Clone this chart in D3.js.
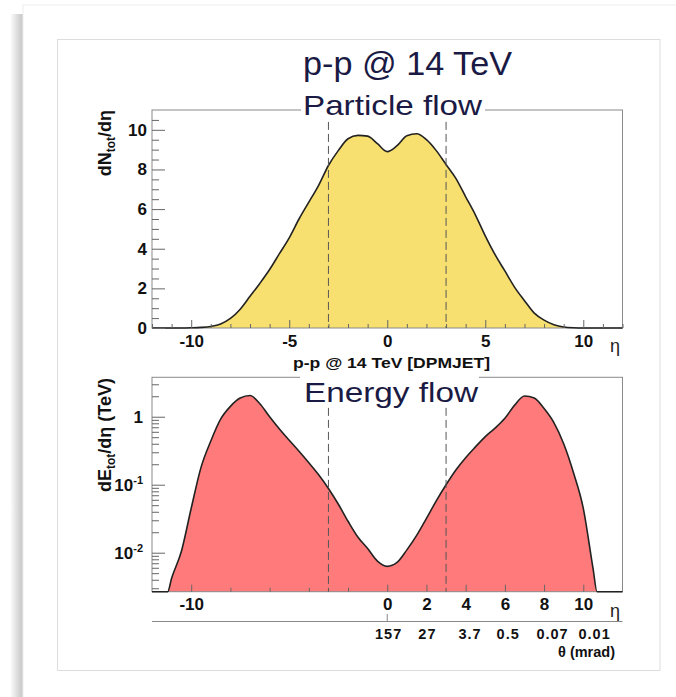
<!DOCTYPE html>
<html>
<head>
<meta charset="utf-8">
<script src="https://cdn.jsdelivr.net/npm/d3@7"></script>
<style>
  html, body { margin: 0; padding: 0; background: #ffffff; }
  svg { display: block; }
  text { font-family: "Liberation Sans", Arial, sans-serif; }
</style>
</head>
<body>
<svg id="chart" width="676" height="697"></svg>
<script>
// ---------------- DATA ----------------
const mainTitle = "p-p @ 14 TeV";
const topTitle = "Particle flow";
const bottomTitle = "Energy flow";
const topXTitle = "p-p @ 14 TeV [DPMJET]";

// particle flow dN/deta
const etaN = [-12,-11.5,-11,-10.5,-10,-9.5,-9,-8.5,-8,-7.5,-7,-6.5,-6,-5.5,-5,-4.5,-4,-3.5,-3,-2.5,-2,-1.5,-1,-0.5,0,0.5,1,1.5,2,2.5,3,3.5,4,4.5,5,5.5,6,6.5,7,7.5,8,8.5,9,9.5,10,10.5,11,11.5,12];
const dN   = [0,0,0,0,0.01,0.03,0.08,0.2,0.48,0.95,1.6,2.25,2.95,3.75,4.55,5.5,6.35,7.2,8.2,8.95,9.55,9.72,9.68,9.3,8.9,9.2,9.7,9.8,9.5,8.95,8.25,7.55,6.62,5.7,4.65,3.7,2.88,2.05,1.38,0.75,0.4,0.17,0.05,0.01,0,0,0,0,0];

// energy flow dE/deta (TeV)
const etaE = [-12,-11.5,-11.2,-11,-10.5,-10,-9.5,-9,-8.5,-8,-7.5,-7,-6.5,-6,-5.5,-5,-4.5,-4,-3.5,-3,-2.5,-2,-1.5,-1,-0.5,0,0.5,1,1.5,2,2.5,3,3.5,4,4.5,5,5.5,6,6.5,7,7.5,8,8.5,9,9.5,10,10.5,10.7,11,11.5,12];
const dE   = [0,0,0,0.0042,0.0105,0.045,0.18,0.44,0.92,1.42,1.88,2.05,1.55,1.0,0.66,0.45,0.31,0.21,0.14,0.088,0.052,0.029,0.017,0.0115,0.0075,0.0063,0.0072,0.011,0.018,0.032,0.058,0.10,0.165,0.25,0.36,0.51,0.68,0.95,1.48,2.02,1.88,1.32,0.82,0.4,0.15,0.045,0.0058,0,0,0,0];

const dashedEta = [-3, 3];
const dashTopN = 10.4;
const dashTopE = 1.35;

const xTicksTop = [-10,-5,0,5,10];
const xMinorTop = [-12,-11,-9,-8,-7,-6,-4,-3,-2,-1,1,2,3,4,6,7,8,9,11,12];
const yTicksTop = [0,2,4,6,8,10];
const yMinorTop = [0.5,1,1.5,2.5,3,3.5,4.5,5,5.5,6.5,7,7.5,8.5,9,9.5,10.5];

const xTicksBot = [-10,0,2,4,6,8,10];
const xMinorBot = [-8,-6,-4,-2];
const yTicksBot = [1,0.1,0.01];
const yTickLabelsBot = [["1",""],["10","-1"],["10","-2"]];
const yMinorBot = [0.003,0.004,0.005,0.006,0.007,0.008,0.009,0.02,0.03,0.04,0.05,0.06,0.07,0.08,0.09,0.2,0.3,0.4,0.5,0.6,0.7,0.8,0.9,2,3];

const thetaEta = [0.07, 2.05, 4.22, 6.17, 8.43, 10.58];
const thetaLabels = ["157","27","3.7","0.5","0.07","0.01"];

// ---------------- LAYOUT ----------------
const svg = d3.select("#chart");
const L = 152, R = 622.5;
const topT = 110, topB = 328;
const botT = 377.3, botB = 591.7;
const eMin = 0.00267, eMax = 3.8;

const x = d3.scaleLinear().domain([-12, 12]).range([L, R]);
const yN = d3.scaleLinear().domain([0, 11]).range([topB, topT]);
const yE = d3.scaleLog().domain([eMin, eMax]).range([botB, botT]);

const titleColor = "#1a1a44";
const fmt = d => String(d);

// card + shadow
const defs = svg.append("defs");
const g1 = defs.append("linearGradient").attr("id", "sh").attr("x1", "0").attr("x2", "1");
g1.append("stop").attr("offset", "0").attr("stop-color", "#ffffff");
g1.append("stop").attr("offset", "0.7").attr("stop-color", "#d4d4d4");
g1.append("stop").attr("offset", "1").attr("stop-color", "#c8c8c8");
svg.append("rect").attr("x", 10).attr("y", 14).attr("width", 13).attr("height", 683).attr("fill", "url(#sh)");
svg.append("rect").attr("x", 23).attr("y", 5).attr("width", 660).attr("height", 700)
  .attr("fill", "#fff").attr("stroke", "#eeeeee");
svg.append("rect").attr("x", 57.5).attr("y", 39.5).attr("width", 602.5).attr("height", 631)
  .attr("fill", "#fff").attr("stroke", "#dddddd");

// ---------- TOP PANEL ----------
const areaN = d3.area().x((d, i) => x(etaN[i])).y0(topB).y1(d => yN(d)).curve(d3.curveMonotoneX);
const lineN = d3.line().x((d, i) => x(etaN[i])).y(d => yN(d)).curve(d3.curveMonotoneX);

svg.append("path").datum(dN).attr("d", areaN).attr("fill", "#f8e070");

svg.append("rect").attr("x", L).attr("y", topT).attr("width", R - L).attr("height", topB - topT)
  .attr("fill", "none").attr("stroke", "#8a8a8a").attr("stroke-width", 1);

svg.append("path").datum(dN).attr("d", lineN).attr("fill", "none").attr("stroke", "#222").attr("stroke-width", 1.6);

svg.selectAll(".dashN").data(dashedEta).enter().append("line")
  .attr("x1", d => x(d)).attr("x2", d => x(d)).attr("y1", yN(dashTopN)).attr("y2", topB)
  .attr("stroke", "#555").attr("stroke-width", 1).attr("stroke-dasharray", "8,4");

const axYN = svg.append("g").attr("transform", `translate(${L},0)`)
  .call(d3.axisLeft(yN).tickValues(yTicksTop).tickSizeInner(-13).tickSizeOuter(0).tickPadding(5).tickFormat(fmt));
const axYNm = svg.append("g").attr("transform", `translate(${L},0)`)
  .call(d3.axisLeft(yN).tickValues(yMinorTop).tickSizeInner(-7).tickSizeOuter(0).tickFormat(""));
const axXN = svg.append("g").attr("transform", `translate(0,${topB})`)
  .call(d3.axisBottom(x).tickValues(xTicksTop).tickSizeInner(-8).tickSizeOuter(0).tickPadding(7).tickFormat(fmt));
const axXNm = svg.append("g").attr("transform", `translate(0,${topB})`)
  .call(d3.axisBottom(x).tickValues(xMinorTop).tickSizeInner(-4).tickSizeOuter(0).tickFormat(""));

// ---------- BOTTOM PANEL ----------
const cl = v => Math.max(v, eMin);
const areaE = d3.area().x((d, i) => x(etaE[i])).y0(botB).y1(d => yE(cl(d))).curve(d3.curveMonotoneX);
const lineE = d3.line().x((d, i) => x(etaE[i])).y(d => yE(cl(d))).curve(d3.curveMonotoneX);

svg.append("path").datum(dE).attr("d", areaE).attr("fill", "#ff7b7b");
svg.append("rect").attr("x", L).attr("y", botT).attr("width", R - L).attr("height", botB - botT)
  .attr("fill", "none").attr("stroke", "#8a8a8a").attr("stroke-width", 1);
svg.append("path").datum(dE).attr("d", lineE).attr("fill", "none").attr("stroke", "#222").attr("stroke-width", 1.6);

svg.selectAll(".dashE").data(dashedEta).enter().append("line")
  .attr("x1", d => x(d)).attr("x2", d => x(d)).attr("y1", yE(dashTopE)).attr("y2", botB)
  .attr("stroke", "#555").attr("stroke-width", 1).attr("stroke-dasharray", "8,4");

const axYE = svg.append("g").attr("transform", `translate(${L},0)`)
  .call(d3.axisLeft(yE).tickValues(yTicksBot).tickSizeInner(-13).tickSizeOuter(0).tickPadding(8).tickFormat(""));
const axYEm = svg.append("g").attr("transform", `translate(${L},0)`)
  .call(d3.axisLeft(yE).tickValues(yMinorBot).tickSizeInner(-7).tickSizeOuter(0).tickFormat(""));
const axXE = svg.append("g").attr("transform", `translate(0,${botB})`)
  .call(d3.axisBottom(x).tickValues(xTicksBot).tickSizeInner(-7).tickSizeOuter(0).tickPadding(6).tickFormat(fmt));
const axXEm = svg.append("g").attr("transform", `translate(0,${botB})`)
  .call(d3.axisBottom(x).tickValues(xMinorBot).tickSizeInner(-4).tickSizeOuter(0).tickFormat(""));

yTicksBot.forEach((v, i) => {
  const t = svg.append("text").attr("x", 143).attr("y", yE(v) + 6)
    .attr("text-anchor", "end").attr("font-size", 17).attr("font-weight", "bold").attr("fill", "#111");
  t.append("tspan").text(yTickLabelsBot[i][0]);
  if (yTickLabelsBot[i][1]) {
    t.append("tspan").attr("font-size", 11).attr("dy", -7).text(yTickLabelsBot[i][1]);
  }
});

[axYN, axYNm, axXN, axXNm, axYE, axYEm, axXE, axXEm].forEach(a => {
  a.select(".domain").remove();
  a.selectAll(".tick line").attr("stroke", "#666").attr("stroke-width", 1);
  a.selectAll("text").attr("font-size", 17).attr("font-weight", "bold").attr("fill", "#111")
    .attr("font-family", "'Liberation Sans', Arial, sans-serif");
});

// ---------- TITLES ----------
svg.append("text").attr("x", 303).attr("y", 75).attr("font-size", 33).attr("fill", titleColor)
  .attr("textLength", 209).attr("lengthAdjust", "spacingAndGlyphs").text(mainTitle);

svg.append("rect").attr("x", 301).attr("y", 105).attr("width", 184).attr("height", 8).attr("fill", "#fff");
svg.append("text").attr("x", 303).attr("y", 115).attr("font-size", 28).attr("fill", titleColor)
  .attr("textLength", 179).attr("lengthAdjust", "spacingAndGlyphs").text(topTitle);

svg.append("rect").attr("x", 300).attr("y", 373).attr("width", 179).attr("height", 8).attr("fill", "#fff");
svg.append("text").attr("x", 304).attr("y", 402).attr("font-size", 28).attr("fill", titleColor)
  .attr("textLength", 174).attr("lengthAdjust", "spacingAndGlyphs").text(bottomTitle);

svg.append("text").attr("x", 293).attr("y", 368).attr("font-size", 14).attr("font-weight", "bold").attr("fill", "#111")
  .attr("textLength", 197).attr("lengthAdjust", "spacingAndGlyphs").text(topXTitle);

svg.append("text").attr("x", 610).attr("y", 352).attr("font-size", 18).attr("fill", "#222").text("η");
svg.append("text").attr("x", 610).attr("y", 617).attr("font-size", 18).attr("fill", "#222").text("η");

const yt1 = svg.append("text").attr("transform", "translate(111,110) rotate(-90)")
  .attr("text-anchor", "end").attr("font-size", 18).attr("font-weight", "bold").attr("fill", "#111");
yt1.append("tspan").text("dN");
yt1.append("tspan").attr("font-size", 12).attr("dy", 4).text("tot");
yt1.append("tspan").attr("dy", -4).text("/dη");

const yt2 = svg.append("text").attr("transform", "translate(111,378) rotate(-90)")
  .attr("text-anchor", "end").attr("font-size", 18).attr("font-weight", "bold").attr("fill", "#111");
yt2.append("tspan").text("dE");
yt2.append("tspan").attr("font-size", 12).attr("dy", 4).text("tot");
yt2.append("tspan").attr("dy", -4).text("/dη (TeV)");

// theta axis
svg.append("line").attr("x1", L).attr("x2", R).attr("y1", 621.5).attr("y2", 621.5)
  .attr("stroke", "#888").attr("stroke-width", 1.2);
svg.append("line").attr("x1", x(0)).attr("x2", x(0)).attr("y1", 614).attr("y2", 621.5)
  .attr("stroke", "#888").attr("stroke-width", 1);
svg.selectAll(".th").data(thetaLabels).enter().append("text")
  .attr("x", (d, i) => x(thetaEta[i])).attr("y", 639).attr("text-anchor", "middle")
  .attr("font-size", 14.5).attr("font-weight", "bold").attr("letter-spacing", 1).attr("fill", "#111").text(d => d);
svg.append("text").attr("x", 615).attr("y", 657).attr("text-anchor", "end")
  .attr("font-size", 14.5).attr("font-weight", "bold").attr("fill", "#111").text("θ (mrad)");
</script>
</body>
</html>
